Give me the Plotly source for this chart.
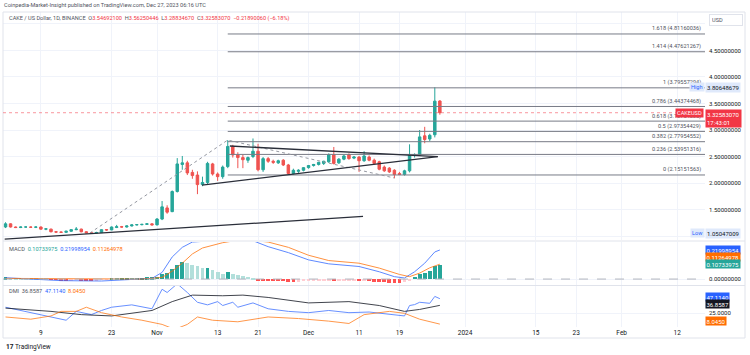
import plotly.graph_objects as go
import pandas as pd

W, H = 750, 355

# ---------------- data ----------------
dates = pd.date_range("2023-10-02", "2023-12-27", freq="D").strftime("%Y-%m-%d").tolist()

opens = [1.17, 1.23, 1.17, 1.16, 1.17, 1.17, 1.165, 1.17, 1.13, 1.13,
         1.08, 1.075, 1.07, 1.09, 1.12, 1.13, 1.08, 1.06, 1.055, 1.065,
         1.12, 1.115, 1.16, 1.175, 1.17, 1.19, 1.21, 1.215, 1.22, 1.23,
         1.21, 1.32, 1.53, 1.46, 1.84, 2.35, 2.38, 2.20, 2.15, 1.97,
         2.01, 2.36, 2.17, 2.12, 2.31, 2.69, 2.53, 2.48, 2.43, 2.50,
         2.60, 2.25, 2.46, 2.41, 2.38, 2.43, 2.34, 2.18, 2.22, 2.24,
         2.29, 2.33, 2.35, 2.37, 2.40, 2.53, 2.38, 2.45, 2.53, 2.47,
         2.49, 2.42, 2.49, 2.43, 2.40, 2.30, 2.28, 2.24, 2.18, 2.16,
         2.23, 2.52, 2.53, 2.89, 2.83, 2.91, 3.54692100]
highs = [1.26, 1.24, 1.18, 1.18, 1.18, 1.18, 1.18, 1.18, 1.14, 1.14,
         1.09, 1.085, 1.10, 1.13, 1.17, 1.14, 1.09, 1.07, 1.08, 1.13,
         1.13, 1.18, 1.21, 1.19, 1.20, 1.22, 1.22, 1.23, 1.24, 1.24,
         1.34, 1.66, 1.58, 1.86, 2.47, 2.51, 2.42, 2.25, 2.22, 2.12,
         2.40, 2.38, 2.20, 2.33, 2.81, 2.72, 2.58, 2.53, 2.50, 2.84,
         2.74, 2.49, 2.49, 2.44, 2.44, 2.45, 2.36, 2.27, 2.26, 2.30,
         2.34, 2.36, 2.40, 2.42, 2.56, 2.68, 2.47, 2.53, 2.56, 2.51,
         2.51, 2.60, 2.52, 2.46, 2.42, 2.33, 2.30, 2.26, 2.21, 2.25,
         2.73, 2.56, 3.00, 3.06, 2.93, 3.80648679, 3.56250446]
lows = [1.15, 1.16, 1.15, 1.15, 1.16, 1.16, 1.15, 1.12, 1.11, 1.07,
        1.06, 1.06, 1.06, 1.08, 1.11, 1.07, 1.055, 1.05047009, 1.052, 1.06,
        1.10, 1.11, 1.15, 1.16, 1.16, 1.18, 1.20, 1.20, 1.21, 1.20,
        1.20, 1.30, 1.42, 1.45, 1.82, 2.25, 2.15, 2.08, 1.79, 1.94,
        1.98, 2.14, 2.04, 2.08, 2.28, 2.48, 2.28, 2.28, 2.38, 2.47,
        2.22, 2.21, 2.38, 2.36, 2.36, 2.32, 2.16, 2.16, 2.19, 2.22,
        2.27, 2.31, 2.33, 2.34, 2.38, 2.35, 2.36, 2.43, 2.44, 2.45,
        2.21, 2.40, 2.41, 2.35, 2.24, 2.21, 2.19, 2.09, 2.15, 2.14,
        2.20, 2.48, 2.51, 2.75, 2.79, 2.86, 3.28834670]
closes = [1.23, 1.17, 1.16, 1.17, 1.17, 1.165, 1.17, 1.13, 1.135, 1.08,
          1.075, 1.07, 1.09, 1.12, 1.13, 1.08, 1.06, 1.055, 1.065, 1.12,
          1.115, 1.17, 1.175, 1.17, 1.19, 1.21, 1.215, 1.22, 1.23, 1.21,
          1.32, 1.55, 1.45, 1.84, 2.36, 2.38, 2.19, 2.14, 1.97, 2.01,
          2.37, 2.17, 2.12, 2.30, 2.69, 2.53, 2.48, 2.44, 2.48, 2.60,
          2.25, 2.46, 2.41, 2.39, 2.42, 2.34, 2.18, 2.24, 2.24, 2.29,
          2.33, 2.35, 2.39, 2.41, 2.53, 2.37, 2.45, 2.51, 2.46, 2.49,
          2.42, 2.51, 2.43, 2.37, 2.26, 2.23, 2.21, 2.16, 2.16, 2.23,
          2.52, 2.53, 2.87, 2.82, 2.90, 3.5447313, 3.32583070]

macd_hist = [0.012, 0.011, 0.010, 0.009, 0.008, 0.007, 0.005,
             0.003, 0.001, -0.003,
             -0.006, -0.008, -0.009, -0.008, -0.007, -0.008, -0.010, -0.011,
             -0.009, -0.006, -0.003, 0.001,
             0.004, 0.006, 0.008, 0.009, 0.010, 0.011, 0.012, 0.013,
             0.018, 0.035, 0.045, 0.075, 0.11, 0.13,
             0.125, 0.11, 0.095, 0.08,
             0.085, 0.065, 0.05, 0.04,
             0.05, 0.04, 0.032, 0.025, 0.018, 0.01,
             -0.008, -0.012, -0.014, -0.016, -0.017, -0.018, -0.02, -0.021,
             -0.019, -0.018, -0.017, -0.016, -0.015, -0.014, -0.012,
             -0.016, -0.015, -0.014, -0.013, -0.012,
             -0.015, -0.013, -0.016, -0.019, -0.023, -0.026, -0.028, -0.029, -0.031,
             -0.02, -0.008, 0.018, 0.035, 0.045, 0.06, 0.095, 0.10733975]

macd_dates = ["2023-10-02", "2023-10-07", "2023-10-13", "2023-10-21", "2023-10-27", "2023-10-31",
              "2023-11-02", "2023-11-04", "2023-11-06", "2023-11-08", "2023-11-10", "2023-11-12",
              "2023-11-15", "2023-11-18", "2023-11-20", "2023-11-23", "2023-11-27", "2023-12-01",
              "2023-12-05", "2023-12-11", "2023-12-15", "2023-12-18", "2023-12-20", "2023-12-22",
              "2023-12-24", "2023-12-26", "2023-12-27"]
macd_line = [0.01, 0.0, -0.012, -0.015, -0.005, 0.005,
             0.05, 0.167, 0.24, 0.28, 0.285, 0.29,
             0.31, 0.32, 0.29, 0.245, 0.2, 0.145,
             0.115, 0.095, 0.055, 0.018, 0.008, 0.055,
             0.12, 0.205, 0.21998954]

signal_dates = ["2023-10-02", "2023-10-29", "2023-11-02", "2023-11-04", "2023-11-06", "2023-11-08",
                "2023-11-10", "2023-11-14", "2023-11-18", "2023-11-23", "2023-11-27", "2023-12-01",
                "2023-12-05", "2023-12-11", "2023-12-15", "2023-12-19", "2023-12-21", "2023-12-23",
                "2023-12-25", "2023-12-27"]
signal_line = [0.005, 0.0, 0.012, 0.06, 0.12, 0.19,
               0.235, 0.275, 0.30, 0.28, 0.24, 0.18,
               0.14, 0.12, 0.083, 0.035, 0.018, 0.045,
               0.085, 0.11264978]

pdi_dates = ["2023-10-02", "2023-10-07", "2023-10-11", "2023-10-14", "2023-10-16", "2023-10-19",
             "2023-10-21", "2023-10-23", "2023-10-27", "2023-10-31", "2023-11-02", "2023-11-03",
             "2023-11-05", "2023-11-07", "2023-11-09", "2023-11-11", "2023-11-13", "2023-11-14",
             "2023-11-16", "2023-11-17", "2023-11-20", "2023-11-23", "2023-11-27", "2023-12-01",
             "2023-12-05", "2023-12-09", "2023-12-13", "2023-12-17", "2023-12-20", "2023-12-21",
             "2023-12-22", "2023-12-23", "2023-12-24", "2023-12-25", "2023-12-26", "2023-12-27"]
pdi = [34, 25.6, 19, 14, 27.6, 22.6,
       29, 34, 37.6, 31.6, 61.6, 56.6,
       70, 56.6, 41.6, 37.6, 42.6, 36.6,
       41.6, 34, 40.6, 31.6, 27.6, 25.6,
       29, 25.6, 26.6, 22.6, 20.6, 36.6,
       38, 41.6, 40.6, 40, 50.6, 47.1140]

adx_dates = ["2023-10-02", "2023-10-11", "2023-10-17", "2023-10-23", "2023-10-31", "2023-11-04",
             "2023-11-08", "2023-11-14", "2023-11-18", "2023-11-23", "2023-12-01", "2023-12-09",
             "2023-12-15", "2023-12-20", "2023-12-23", "2023-12-27"]
adx = [32.6, 27.6, 22.6, 20.6, 29, 42.6,
       52.6, 51.6, 52.6, 49, 40.6, 42.6,
       36.6, 27.6, 30.6, 36.8587]

mdi_dates = ["2023-10-02", "2023-10-07", "2023-10-11", "2023-10-13", "2023-10-16", "2023-10-18",
             "2023-10-21", "2023-10-25", "2023-10-29", "2023-11-02", "2023-11-04", "2023-11-05",
             "2023-11-07", "2023-11-09", "2023-11-12", "2023-11-17", "2023-11-23", "2023-11-29",
             "2023-12-05", "2023-12-09", "2023-12-12", "2023-12-17", "2023-12-20", "2023-12-23",
             "2023-12-27"]
mdi = [19, 15.6, 20.6, 27.6, 27.6, 34,
       25.6, 19, 14, 7.6, 1.5, 1.5,
       7.6, 19, 14, 11.6, 19, 16.6,
       12.6, 9, 22.6, 27.6, 24.6, 15.6,
       8.0450]

fib_low, fib_high = 2.15151563, 3.79557294
fib_levels = [0, 0.236, 0.382, 0.5, 0.618, 0.786, 1, 1.414, 1.618]
fib_start = "2023-11-15"

path_dates = ["2023-10-18 17:00", "2023-11-15", "2023-12-18"]
path_prices = [1.057, 2.81, 2.094]
tri_upper_dates = ["2023-11-15 10:00", "2023-12-26 14:00"]
tri_upper_prices = [2.698, 2.496]
tri_lower_dates = ["2023-11-09 22:00", "2023-12-26 14:00"]
tri_lower_prices = [1.962, 2.496]
support_dates = ["2023-10-01 20:00", "2023-12-11 19:00"]
support_prices = [0.94, 1.37]

price_ticks = [1.0, 1.5, 2.0, 2.5, 3.0, 3.5, 4.0, 4.5, 5.0]
hidden_price_ticks = [1.0, 5.0]
date_ticks = ["2023-10-09", "2023-10-23", "2023-11-01", "2023-11-13", "2023-11-21", "2023-12-01",
              "2023-12-11", "2023-12-19", "2024-01-01", "2024-01-15", "2024-01-23", "2024-02-01",
              "2024-02-12"]
date_labels = ["9", "23", "Nov", "13", "21", "Dec", "11", "19", "2024", "15", "23", "Feb", "12"]

X_START, X_END = "2023-10-01 12:00", "2024-02-17 12:00"

# ---------------- style ----------------
GREEN, RED = "#26a69a", "#ef5350"
BLUE, ORANGE, BLACK = "#2962ff", "#ff6d00", "#131722"
GRID = "#f0f3fa"
TXT = "#131722"
FONT = "Roboto"


def px(x):
    return x / W


def py(y):
    return 1 - y / H


fig = go.Figure()

# candles
fig.add_trace(go.Candlestick(
    x=dates, open=opens, high=highs, low=lows, close=closes,
    increasing=dict(line=dict(color=GREEN, width=1), fillcolor=GREEN),
    decreasing=dict(line=dict(color=RED, width=1), fillcolor=RED),
    whiskerwidth=0, xaxis="x", yaxis="y", hoverinfo="skip", showlegend=False))

# fib lines
for lv in fib_levels:
    val = fib_low + lv * (fib_high - fib_low)
    fig.add_trace(go.Scatter(x=[fib_start, X_END], y=[val, val], mode="lines",
                             line=dict(color="#787b86", width=1), xaxis="x", yaxis="y",
                             hoverinfo="skip", showlegend=False))

# drawings
fig.add_trace(go.Scatter(x=path_dates, y=path_prices, mode="lines",
                         line=dict(color="#9598a1", width=1, dash="dot"),
                         xaxis="x", yaxis="y", hoverinfo="skip", showlegend=False))
for dx, dy in [(tri_upper_dates, tri_upper_prices), (tri_lower_dates, tri_lower_prices),
               (support_dates, support_prices)]:
    fig.add_trace(go.Scatter(x=dx, y=dy, mode="lines", line=dict(color="#2a2e39", width=1.3),
                             xaxis="x", yaxis="y", hoverinfo="skip", showlegend=False))

# MACD histogram colours
hcolors = []
prev = None
for h in macd_hist:
    up = prev is None or h >= prev
    if h >= 0:
        hcolors.append("#26a69a" if up else "#b2dfdb")
    else:
        hcolors.append("#ffcdd2" if up else "#ff5252")
    prev = h

fig.add_trace(go.Bar(x=dates, y=macd_hist, marker=dict(color=hcolors, line=dict(width=0)),
                     width=0.75 * 86400000, xaxis="x2", yaxis="y2", hoverinfo="skip",
                     showlegend=False))
fig.add_trace(go.Scatter(x=macd_dates, y=macd_line, mode="lines", line=dict(color=BLUE, width=1),
                         xaxis="x2", yaxis="y2", hoverinfo="skip", showlegend=False, opacity=0.75))
fig.add_trace(go.Scatter(x=signal_dates, y=signal_line, mode="lines", line=dict(color=ORANGE, width=1),
                         xaxis="x2", yaxis="y2", hoverinfo="skip", showlegend=False, opacity=0.75))

# DMI
fig.add_trace(go.Scatter(x=pdi_dates, y=pdi, mode="lines", line=dict(color=BLUE, width=1),
                         xaxis="x3", yaxis="y3", hoverinfo="skip", showlegend=False, opacity=0.7))
fig.add_trace(go.Scatter(x=adx_dates, y=adx, mode="lines", line=dict(color=BLACK, width=1),
                         xaxis="x3", yaxis="y3", hoverinfo="skip", showlegend=False, opacity=0.8))
fig.add_trace(go.Scatter(x=mdi_dates, y=mdi, mode="lines", line=dict(color=ORANGE, width=1),
                         xaxis="x3", yaxis="y3", hoverinfo="skip", showlegend=False, opacity=0.7))

xdom = [px(3), px(705)]
xcommon = dict(type="date", range=[X_START, X_END], domain=xdom, showgrid=True, gridcolor=GRID,
               gridwidth=1, tickvals=date_ticks, ticktext=date_labels, zeroline=False,
               showline=False, ticks="", fixedrange=True)

price_text = ["" if v in hidden_price_ticks else f"{v:.8f}" for v in price_ticks]
ycommon = dict(side="right", showgrid=True, gridcolor=GRID, zeroline=False, showline=False,
               ticks="", tickfont=dict(size=6, color=TXT, family=FONT), fixedrange=True,
               ticklabelstandoff=3)

fig.update_layout(
    width=W, height=H, margin=dict(l=0, r=0, t=0, b=0),
    paper_bgcolor="white", plot_bgcolor="white", showlegend=False,
    font=dict(family=FONT, color=TXT),
    xaxis=dict(**xcommon, anchor="y", showticklabels=False, rangeslider=dict(visible=False)),
    xaxis2=dict(**xcommon, anchor="y2", matches="x", showticklabels=False),
    xaxis3=dict(**xcommon, anchor="y3", matches="x", showticklabels=True,
                tickfont=dict(size=6.5, color=TXT, family=FONT)),
    yaxis=dict(**ycommon, domain=[py(240), py(12)], range=[0.925, 5.226], anchor="x",
               tickvals=price_ticks, ticktext=price_text),
    yaxis2=dict(**ycommon, domain=[py(285), py(242)], range=[-0.045, 0.2803], anchor="x2",
                tickvals=[0], ticktext=[f"{0:.8f}"]),
    yaxis3=dict(**ycommon, domain=[py(327), py(286)], range=[3.6, 66.6], anchor="x3",
                tickvals=[25], ticktext=[f"{25:.4f}"]),
    bargap=0,
)

shapes = []
# frame & pane separators
shapes.append(dict(type="rect", xref="paper", yref="paper", x0=px(3), x1=px(745), y0=py(338), y1=py(12),
                   line=dict(color="#e0e3eb", width=1)))
for yy in [241, 285.5]:
    shapes.append(dict(type="line", xref="paper", yref="paper", x0=px(3), x1=px(745), y0=py(yy), y1=py(yy),
                       line=dict(color="#e0e3eb", width=1)))
# current price line
shapes.append(dict(type="line", xref="paper", yref="y", x0=xdom[0], x1=xdom[1], y0=closes[-1], y1=closes[-1],
                   line=dict(color="#f7525f", width=1, dash="dot"), opacity=0.6))
# MACD zero line
shapes.append(dict(type="line", xref="paper", yref="y2", x0=xdom[0], x1=xdom[1], y0=0, y1=0,
                   line=dict(color="#b2b5be", width=1, dash="dash")))
fig.update_layout(shapes=shapes)

ann = []


def A(**kw):
    base = dict(showarrow=False, font=dict(family=FONT, size=6, color=TXT))
    if "font" in kw:
        f = dict(base["font"])
        f.update(kw.pop("font"))
        base["font"] = f
    base.update(kw)
    ann.append(base)


# header
A(text="Coinpedia-Market-Insight published on TradingView.com, Dec 27, 2023 06:16 UTC",
  xref="paper", yref="paper", x=px(2), y=py(5), xanchor="left", yanchor="middle",
  font=dict(size=5.6, color="#50535e"))

chg = closes[-1] - closes[-2]
pct = chg / closes[-2] * 100
R = "#f23645"
legend = (f"CAKE / US Dollar, 1D, BINANCE  O<span style='color:{R}'>{opens[-1]:.8f}</span>  "
          f"H<span style='color:{R}'>{highs[-1]:.8f}</span>  L<span style='color:{R}'>{lows[-1]:.8f}</span>  "
          f"C<span style='color:{R}'>{closes[-1]:.8f}</span>  "
          f"<span style='color:{R}'>{chg:.8f} ({pct:.2f}%)</span>").replace("-", "−")
A(text=legend, xref="paper", yref="paper", x=px(7), y=py(18.5), xanchor="left", yanchor="middle",
  font=dict(size=5.6, color="#50535e"))

# fib labels
for lv in fib_levels:
    val = fib_low + lv * (fib_high - fib_low)
    A(text=f"{lv:g} ({val:.8f})", xref="paper", yref="y", x=px(703), y=val, xanchor="right",
      yanchor="bottom", yshift=-0.5, font=dict(size=5.6, color="#50535e"))

# USD box
A(text="USD", xref="paper", yref="paper", x=px(709), y=py(20), xanchor="left", yanchor="middle",
  bordercolor="#e0e3eb", borderwidth=1, borderpad=2, bgcolor="white",
  font=dict(size=5.6, color="#50535e"), width=28, align="left")

# High / Low labels
hi_val, lo_val = max(highs), min(lows)
A(text="High", xref="paper", yref="y", x=px(705), y=hi_val, xanchor="right", yanchor="middle",
  bgcolor="#dfe9fb", font=dict(size=5.6, color=BLUE), borderpad=1)
A(text=f"{hi_val:.8f}", xref="paper", yref="y", x=px(705), y=hi_val, xanchor="left", yanchor="middle",
  bgcolor="#dfe9fb", font=dict(size=6, color=TXT), borderpad=1)
A(text="Low", xref="paper", yref="y", x=px(705), y=lo_val, xanchor="right", yanchor="middle",
  bgcolor="#dfe9fb", font=dict(size=5.6, color=BLUE), borderpad=1)
A(text=f"{lo_val:.8f}", xref="paper", yref="y", x=px(705), y=lo_val, xanchor="left", yanchor="middle",
  bgcolor="#dfe9fb", font=dict(size=6, color=TXT), borderpad=1)

# current price label
A(text="CAKEUSD", xref="paper", yref="y", x=px(704), y=closes[-1], xanchor="right", yanchor="middle",
  bgcolor=R, font=dict(size=5.6, color="white"), borderpad=1)
A(text=f"{closes[-1]:.8f}<br>17:43:01", xref="paper", yref="y", x=px(705), y=closes[-1],
  xanchor="left", yanchor="top", yshift=4, bgcolor=R, font=dict(size=6, color="white"),
  borderpad=1, align="left")

# MACD labels
A(text=(f"MACD  <span style='color:{GREEN}'>{macd_hist[-1]:.8f}</span>  "
        f"<span style='color:{BLUE}'>{macd_line[-1]:.8f}</span>  "
        f"<span style='color:{ORANGE}'>{signal_line[-1]:.8f}</span>"),
  xref="paper", yref="paper", x=px(7), y=py(249), xanchor="left", yanchor="middle",
  font=dict(size=5.6, color="#50535e"))
for val, col, ypix in [(macd_line[-1], BLUE, 250), (signal_line[-1], ORANGE, 257), (macd_hist[-1], GREEN, 263.5)]:
    A(text=f"{val:.8f}", xref="paper", yref="paper", x=px(705), y=py(ypix), xanchor="left",
      yanchor="middle", bgcolor=col, font=dict(size=6, color="white"), borderpad=0.5)

# DMI labels
A(text=(f"DMI  {adx[-1]:.4f}  <span style='color:{BLUE}'>{pdi[-1]:.4f}</span>  "
        f"<span style='color:{ORANGE}'>{mdi[-1]:.4f}</span>"),
  xref="paper", yref="paper", x=px(7), y=py(291), xanchor="left", yanchor="middle",
  font=dict(size=5.6, color="#50535e"))
for val, col, ypix in [(pdi[-1], BLUE, 297), (adx[-1], BLACK, 304), (mdi[-1], ORANGE, 321)]:
    A(text=f"{val:.4f}", xref="paper", yref="paper", x=px(705), y=py(ypix), xanchor="left",
      yanchor="middle", bgcolor=col, font=dict(size=6, color="white"), borderpad=0.5)

# TradingView logo
A(text="<b>17</b> TradingView", xref="paper", yref="paper", x=px(4), y=py(347), xanchor="left",
  yanchor="middle", font=dict(size=6.5, color=TXT))

fig.update_layout(annotations=ann)
fig.write_html("out.html", config={"displayModeBar": False},
               post_script="document.body.style.margin='0';document.body.style.overflow='hidden';")
